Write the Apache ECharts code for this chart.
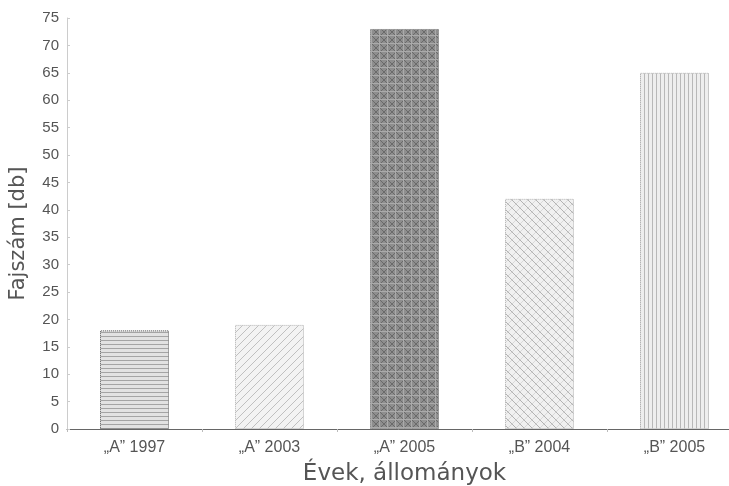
<!DOCTYPE html>
<html>
<head>
<meta charset="utf-8">
<script src="https://cdn.jsdelivr.net/npm/echarts@6/dist/echarts.min.js"></script>
<style>
html, body { margin: 0; padding: 0; background: #fff; }
#chart { width: 729px; height: 486px; }
</style>
</head>
<body>
<div id="chart"></div>
<script>
var categories = ['\u201eA\u201d 1997', '\u201eA\u201d 2003', '\u201eA\u201d 2005', '\u201eB\u201d 2004', '\u201eB\u201d 2005'];
var values = [18, 19, 73, 42, 65];

function makePattern(kind) {
    var c = document.createElement('canvas');
    var s = 8;
    c.width = s;
    c.height = s;
    var ctx = c.getContext('2d');
    ctx.lineWidth = 1;
    if (kind === 'horiz') {
        ctx.fillStyle = '#e2e2e2';
        ctx.fillRect(0, 0, s, s);
        ctx.strokeStyle = '#a4a4a4';
        ctx.beginPath();
        ctx.moveTo(0, 0.5); ctx.lineTo(s, 0.5);
        ctx.moveTo(0, 4.5); ctx.lineTo(s, 4.5);
        ctx.stroke();
    } else if (kind === 'slash') {
        ctx.fillStyle = '#f3f3f3';
        ctx.fillRect(0, 0, s, s);
        ctx.strokeStyle = '#c0c0c0';
        ctx.beginPath();
        ctx.moveTo(0, s); ctx.lineTo(s, 0);
        ctx.moveTo(-1, 1); ctx.lineTo(1, -1);
        ctx.moveTo(s - 1, s + 1); ctx.lineTo(s + 1, s - 1);
        ctx.stroke();
    } else if (kind === 'dark') {
        ctx.fillStyle = '#8e8e8e';
        ctx.fillRect(0, 0, s, s);
        ctx.strokeStyle = '#6a6a6a';
        ctx.beginPath();
        ctx.moveTo(0, 0); ctx.lineTo(s, s);
        ctx.moveTo(0, s); ctx.lineTo(s, 0);
        ctx.stroke();
        ctx.strokeStyle = '#aaaaaa';
        ctx.beginPath();
        ctx.moveTo(0, 3.5); ctx.lineTo(s, 3.5);
        ctx.moveTo(3.5, 0); ctx.lineTo(3.5, s);
        ctx.stroke();
    } else if (kind === 'back') {
        ctx.fillStyle = '#f0f0f0';
        ctx.fillRect(0, 0, s, s);
        ctx.strokeStyle = '#b2b2b2';
        ctx.beginPath();
        ctx.moveTo(0, 0); ctx.lineTo(s, s);
        ctx.stroke();
        ctx.strokeStyle = '#d8d8d8';
        ctx.beginPath();
        ctx.moveTo(0, s); ctx.lineTo(s, 0);
        ctx.stroke();
    } else if (kind === 'vert') {
        ctx.fillStyle = '#eeeeee';
        ctx.fillRect(0, 0, s, s);
        ctx.strokeStyle = '#b8b8b8';
        ctx.beginPath();
        ctx.moveTo(0.5, 0); ctx.lineTo(0.5, s);
        ctx.moveTo(4.5, 0); ctx.lineTo(4.5, s);
        ctx.stroke();
    }
    return c;
}

var patternKinds = ['horiz', 'slash', 'dark', 'back', 'vert'];
var borderColors = ['#555', '#b0b0b0', '#707070', '#b0b0b0', '#b0b0b0'];

var barData = values.map(function (v, i) {
    return {
        value: v,
        itemStyle: {
            color: { image: makePattern(patternKinds[i]), repeat: 'repeat' },
            borderColor: borderColors[i],
            borderWidth: 1,
            borderType: 'dotted'
        }
    };
});

var chart = echarts.init(document.getElementById('chart'));
var option = {
    animation: false,
    backgroundColor: '#fff',
    grid: { left: 67, right: -13, top: 18, bottom: 57, containLabel: false, outerBoundsMode: 'none' },
    xAxis: {
        type: 'category',
        data: categories,
        name: '\u00c9vek, \u00e1llom\u00e1nyok',
        nameLocation: 'middle',
        nameGap: 34,
        nameTextStyle: { color: '#555', fontSize: 23, fontFamily: 'DejaVu Sans' },
        axisLine: { lineStyle: { color: '#666', width: 1 } },
        axisTick: { show: true, length: 3, lineStyle: { color: '#bbb' } },
        axisLabel: { color: '#555', fontSize: 16, fontFamily: 'Liberation Sans', margin: 11 }
    },
    yAxis: {
        type: 'value',
        min: 0,
        max: 75,
        interval: 5,
        name: 'Fajsz\u00e1m [db]',
        nameLocation: 'middle',
        nameGap: 38,
        nameTextStyle: { color: '#555', fontSize: 21, fontFamily: 'DejaVu Sans', padding: [0, 20, 0, 0] },
        axisLine: { show: true, lineStyle: { color: '#ccc' } },
        axisTick: { show: true, inside: true, length: 3, lineStyle: { color: '#ccc' } },
        axisLabel: { color: '#555', fontSize: 15, fontFamily: 'Liberation Sans', margin: 8 },
        splitLine: { show: false }
    },
    series: [{
        type: 'bar',
        data: barData,
        barWidth: 69
    }]
};
chart.setOption(option);
</script>
</body>
</html>
